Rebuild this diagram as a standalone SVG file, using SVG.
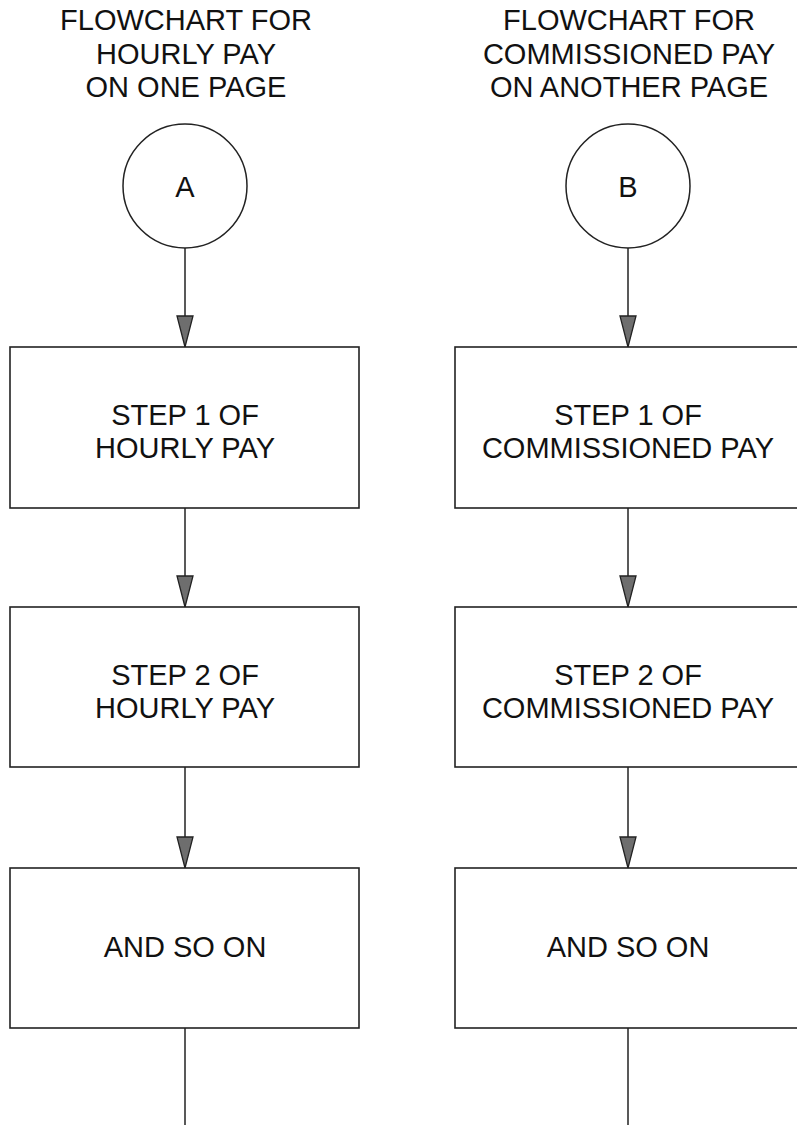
<svg xmlns="http://www.w3.org/2000/svg" width="797" height="1125" viewBox="0 0 797 1125">
  <style>
    .lbl { font-family: "Liberation Sans", Arial, Helvetica, sans-serif; font-size: 29px; fill: #111; text-anchor: middle; }
    .box { fill: #fff; stroke: #222; stroke-width: 1.6; }
    .conn { stroke: #222; stroke-width: 1.5; fill: none; }
  </style>
  <defs>
    <!-- grey filled arrowhead, drawn pointing along +x so orient="auto" turns it down the line -->
    <marker id="arrow" markerUnits="userSpaceOnUse" markerWidth="33" markerHeight="18" refX="32" refY="9" orient="auto" viewBox="0 0 33 18">
      <path d="M1,1 L1,17 L32,9 Z" fill="#6e6e6e" stroke="#222" stroke-width="1.3"/>
    </marker>
  </defs>
  <rect width="797" height="1125" fill="#fff"/>

  <!-- column headings -->
  <g id="title-hourly">
    <text class="lbl" x="186" y="30">FLOWCHART FOR</text>
    <text class="lbl" x="186" y="63.5">HOURLY PAY</text>
    <text class="lbl" x="186" y="97">ON ONE PAGE</text>
  </g>
  <g id="title-commissioned">
    <text class="lbl" x="629" y="30">FLOWCHART FOR</text>
    <text class="lbl" x="629" y="63.5">COMMISSIONED PAY</text>
    <text class="lbl" x="629" y="97">ON ANOTHER PAGE</text>
  </g>

  <!-- connectors -->
  <g id="connectors">
    <line class="conn" x1="185" y1="248" x2="185" y2="347" marker-end="url(#arrow)"/>
    <line class="conn" x1="185" y1="508" x2="185" y2="607" marker-end="url(#arrow)"/>
    <line class="conn" x1="185" y1="767" x2="185" y2="868" marker-end="url(#arrow)"/>
    <line class="conn" x1="185" y1="1028" x2="185" y2="1125"/>
    <line class="conn" x1="628" y1="248" x2="628" y2="347" marker-end="url(#arrow)"/>
    <line class="conn" x1="628" y1="508" x2="628" y2="607" marker-end="url(#arrow)"/>
    <line class="conn" x1="628" y1="767" x2="628" y2="868" marker-end="url(#arrow)"/>
    <line class="conn" x1="628" y1="1028" x2="628" y2="1125"/>
  </g>

  <!-- hourly pay column -->
  <g id="connector-a">
    <circle cx="185" cy="186" r="62" fill="#fff" stroke="#222" stroke-width="1.5"/>
    <text class="lbl" x="185" y="197">A</text>
  </g>
  <g id="hourly-step1">
    <rect class="box" x="10" y="347" width="349" height="161"/>
    <text class="lbl" x="185" y="425">STEP 1 OF</text>
    <text class="lbl" x="185" y="458">HOURLY PAY</text>
  </g>
  <g id="hourly-step2">
    <rect class="box" x="10" y="607" width="349" height="160"/>
    <text class="lbl" x="185" y="685">STEP 2 OF</text>
    <text class="lbl" x="185" y="718">HOURLY PAY</text>
  </g>
  <g id="hourly-more">
    <rect class="box" x="10" y="868" width="349" height="160"/>
    <text class="lbl" x="185" y="957">AND SO ON</text>
  </g>

  <!-- commissioned pay column -->
  <g id="connector-b">
    <circle cx="628" cy="186" r="62" fill="#fff" stroke="#222" stroke-width="1.5"/>
    <text class="lbl" x="628" y="197">B</text>
  </g>
  <g id="commissioned-step1">
    <rect class="box" x="455" y="347" width="360" height="161"/>
    <text class="lbl" x="628" y="425">STEP 1 OF</text>
    <text class="lbl" x="628" y="458">COMMISSIONED PAY</text>
  </g>
  <g id="commissioned-step2">
    <rect class="box" x="455" y="607" width="360" height="160"/>
    <text class="lbl" x="628" y="685">STEP 2 OF</text>
    <text class="lbl" x="628" y="718">COMMISSIONED PAY</text>
  </g>
  <g id="commissioned-more">
    <rect class="box" x="455" y="868" width="360" height="160"/>
    <text class="lbl" x="628" y="957">AND SO ON</text>
  </g>
</svg>
